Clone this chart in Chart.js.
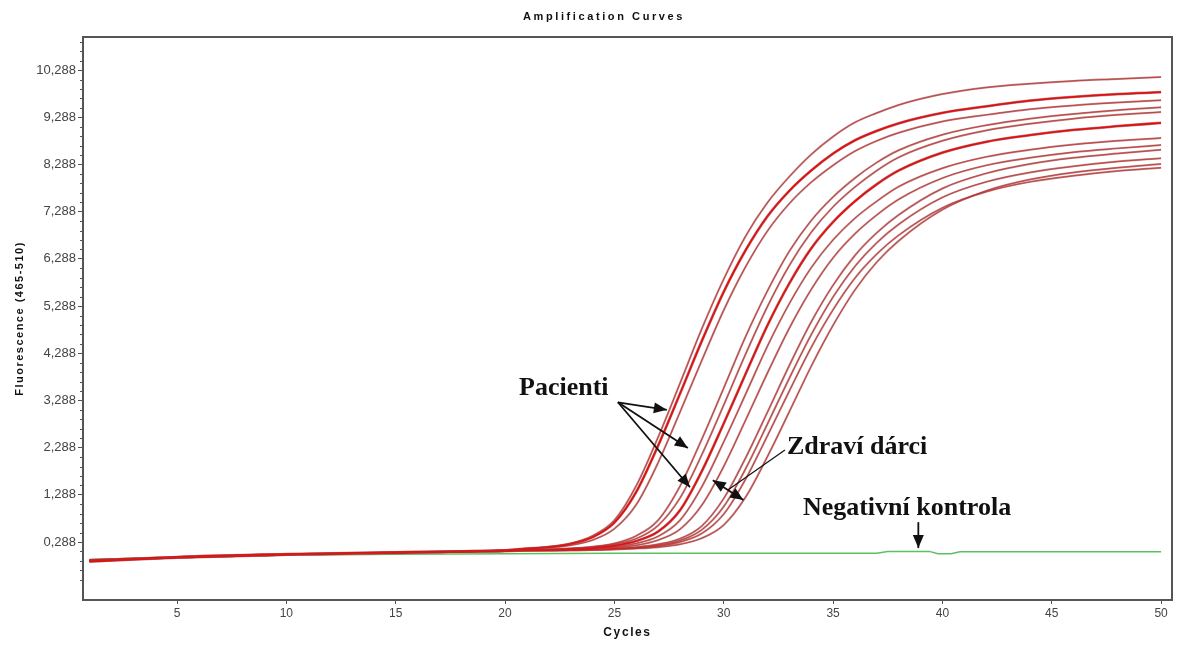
<!DOCTYPE html>
<html><head><meta charset="utf-8">
<script src="https://cdn.jsdelivr.net/npm/chart.js@4.4.1/dist/chart.umd.min.js"></script>
<style>html,body{margin:0;padding:0;background:#fff}#wrap{width:1181px;height:645px}</style>
</head><body><div id="wrap"><canvas id="c" width="1181" height="645"></canvas></div>
<script>
// ---- data ----
const cycles = [1,5,10,15,18,20,21,22,23,24,25,26,27,28,29,30,31,32,33,34,35,36,37,38,40,42,44,46,48,50];
const curve01 = [-0.10,-0.04,0.02,0.06,0.09,0.12,0.15,0.19,0.26,0.42,0.75,1.48,2.51,3.65,4.81,5.86,6.77,7.48,8.03,8.50,8.88,9.18,9.38,9.55,9.78,9.92,10.00,10.06,10.10,10.14];
const curve02 = [-0.12,-0.03,0.03,0.07,0.09,0.11,0.15,0.18,0.25,0.39,0.70,1.35,2.33,3.43,4.55,5.59,6.47,7.19,7.73,8.16,8.52,8.80,9.00,9.16,9.38,9.52,9.64,9.72,9.78,9.82];
const curve03 = [-0.09,-0.04,0.02,0.06,0.08,0.10,0.15,0.17,0.22,0.33,0.57,1.08,1.97,3.04,4.14,5.20,6.12,6.88,7.46,7.91,8.27,8.57,8.79,8.96,9.20,9.34,9.46,9.54,9.60,9.65];
const curve04 = [-0.11,-0.03,0.03,0.06,0.08,0.10,0.12,0.14,0.15,0.19,0.26,0.42,0.75,1.47,2.47,3.55,4.64,5.61,6.45,7.10,7.60,8.00,8.33,8.59,8.92,9.12,9.26,9.36,9.44,9.50];
const curve05 = [-0.10,-0.04,0.02,0.05,0.08,0.10,0.12,0.13,0.15,0.18,0.24,0.36,0.64,1.22,2.14,3.19,4.27,5.28,6.15,6.85,7.39,7.81,8.16,8.44,8.79,9.01,9.15,9.26,9.34,9.40];
const curve06 = [-0.12,-0.04,0.02,0.07,0.09,0.11,0.12,0.12,0.14,0.16,0.21,0.31,0.51,0.96,1.79,2.80,3.85,4.88,5.77,6.51,7.07,7.51,7.87,8.16,8.54,8.77,8.91,9.02,9.10,9.17];
const curve07 = [-0.09,-0.03,0.03,0.06,0.08,0.10,0.12,0.12,0.13,0.16,0.19,0.26,0.41,0.75,1.46,2.41,3.42,4.44,5.34,6.10,6.69,7.15,7.51,7.82,8.21,8.45,8.60,8.71,8.79,8.85];
const curve08 = [-0.10,-0.04,0.02,0.06,0.08,0.10,0.11,0.12,0.12,0.15,0.17,0.22,0.33,0.56,1.07,1.89,2.87,3.87,4.82,5.64,6.31,6.82,7.22,7.55,8.00,8.27,8.43,8.55,8.63,8.70];
const curve09 = [-0.11,-0.03,0.03,0.06,0.08,0.10,0.11,0.12,0.12,0.13,0.15,0.18,0.24,0.36,0.63,1.21,2.07,3.04,4.03,4.95,5.73,6.36,6.84,7.22,7.78,8.10,8.30,8.43,8.52,8.60];
const curve10 = [-0.10,-0.04,0.02,0.05,0.08,0.10,0.11,0.11,0.12,0.13,0.15,0.17,0.22,0.32,0.55,1.04,1.84,2.79,3.76,4.68,5.48,6.13,6.63,7.02,7.59,7.92,8.12,8.25,8.35,8.42];
const curve11 = [-0.09,-0.03,0.02,0.06,0.08,0.10,0.11,0.11,0.12,0.12,0.14,0.16,0.20,0.29,0.47,0.88,1.62,2.54,3.49,4.41,5.21,5.88,6.39,6.79,7.37,7.71,7.92,8.05,8.15,8.22];
const curve12 = [-0.10,-0.04,0.02,0.06,0.08,0.09,0.10,0.11,0.11,0.12,0.13,0.15,0.18,0.24,0.37,0.65,1.24,2.10,3.05,4.01,4.88,5.63,6.22,6.67,7.33,7.73,7.97,8.12,8.22,8.30];
const negCycles  = [1,5,10,15,20,25,30,35,37,37.5,39.4,39.8,40.4,40.8,45,50];
const negControl = [-0.08,-0.03,0.01,0.03,0.04,0.05,0.05,0.05,0.05,0.09,0.09,0.04,0.04,0.08,0.08,0.08];
const xTickValues = [5,10,15,20,25,30,35,40,45,50];
const xTickLabels = ['5','10','15','20','25','30','35','40','45','50'];
const yTickValues = [0.288,1.288,2.288,3.288,4.288,5.288,6.288,7.288,8.288,9.288,10.288];
const yTickLabels = ['0,288','1,288','2,288','3,288','4,288','5,288','6,288','7,288','8,288','9,288','10,288'];
const titleText = 'Amplification Curves';
const xTitle = 'Cycles';
const yTitle = 'Fluorescence (465-510)';

// annotation texts / arrows (in data coordinates)
const labelTexts = [
  {text:'Pacienti', x:20.64, y:3.55},
  {text:'Zdraví dárci', x:32.89, y:2.30},
  {text:'Negativní kontrola', x:33.62, y:1.01}
];
const arrows = [
  {from:[25.16,3.25], to:[27.40,3.09], head:'end'},
  {from:[25.16,3.25], to:[28.36,2.28], head:'end'},
  {from:[25.16,3.25], to:[28.46,1.45], head:'end'},
  {from:[32.80,2.24], to:[30.19,1.39], head:'none'},
  {from:[29.50,1.60], to:[30.90,1.18], head:'both'},
  {from:[38.90,0.71], to:[38.90,0.16], head:'end'}
];

// ---- styling ----
const curves = [curve01,curve02,curve03,curve04,curve05,curve06,curve07,curve08,curve09,curve10,curve11,curve12];
const thick = [false,true,false,false,false,true,false,false,false,false,false,false];
const pts = arr => cycles.map((c,i)=>({x:c,y:arr[i]}));
const datasets = [];
curves.forEach((arr,k)=>datasets.push({data:pts(arr),borderColor:thick[k]?'#e01010':'#c82424',borderWidth:thick[k]?1.8:0.7,pointRadius:0,cubicInterpolationMode:'monotone'}));
curves.forEach((arr,k)=>datasets.push({data:pts(arr),borderColor:'rgba(170,105,105,0.8)',borderWidth:thick[k]?2.8:2.0,pointRadius:0,cubicInterpolationMode:'monotone'}));
datasets.push({data:negCycles.map((c,i)=>({x:c,y:negControl[i]})),borderColor:'#5cc062',borderWidth:1.5,pointRadius:0,tension:0});

Chart.defaults.font.family = "'Liberation Sans', Arial, sans-serif";

const framePlugin = {
  id:'frame',
  afterDraw(chart){
    const {ctx, chartArea:a, scales:{y}} = chart;
    ctx.save();
    ctx.strokeStyle='#555'; ctx.lineWidth=2;
    ctx.strokeRect(a.left, a.top, a.right-a.left, a.bottom-a.top);
    ctx.lineWidth=1;
    for (let k=-1;k<=10;k++){
      for (let m=1;m<5;m++){
        const v = 0.288 + k + m*0.2;
        if (v < y.min || v > y.max) continue;
        const py = Math.round(y.getPixelForValue(v))+0.5;
        ctx.beginPath(); ctx.moveTo(a.left-3,py); ctx.lineTo(a.left,py); ctx.stroke();
      }
    }
    ctx.fillStyle='#111';
    ctx.textAlign='center'; ctx.textBaseline='middle';
    ctx.font="bold 11px 'Liberation Sans', Arial, sans-serif";
    ctx.letterSpacing='2.6px';
    ctx.fillText(titleText, 604, 17);
    ctx.font="bold 12px 'Liberation Sans', Arial, sans-serif";
    ctx.letterSpacing='1.6px';
    ctx.fillText(xTitle, (a.left+a.right)/2, 633);
    ctx.save();
    ctx.translate(20, (a.top+a.bottom)/2);
    ctx.rotate(-Math.PI/2);
    ctx.font="bold 11px 'Liberation Sans', Arial, sans-serif";
    ctx.letterSpacing='1.5px';
    ctx.fillText(yTitle, 0, 0);
    ctx.restore();
    ctx.restore();
  }
};

const annotPlugin = {
  id:'annot',
  afterDatasetsDraw(chart){
    const {ctx, scales:{x,y}} = chart;
    const P = (c,v)=>[x.getPixelForValue(c), y.getPixelForValue(v)];
    ctx.save();
    ctx.fillStyle='#111'; ctx.strokeStyle='#111';
    ctx.font="bold 26px 'Liberation Serif', 'Times New Roman', serif";
    ctx.textAlign='left'; ctx.textBaseline='middle';
    labelTexts.forEach(l=>{const [px,py]=P(l.x,l.y); ctx.fillText(l.text, px, py);});
    const head=(x1,y1,x2,y2)=>{
      const a=Math.atan2(y2-y1,x2-x1), len=13, w=5.5;
      ctx.beginPath(); ctx.moveTo(x2,y2);
      ctx.lineTo(x2-len*Math.cos(a)+w*Math.sin(a), y2-len*Math.sin(a)-w*Math.cos(a));
      ctx.lineTo(x2-len*Math.cos(a)-w*Math.sin(a), y2-len*Math.sin(a)+w*Math.cos(a));
      ctx.closePath(); ctx.fill();
    };
    arrows.forEach(ar=>{
      const [x1,y1]=P(...ar.from), [x2,y2]=P(...ar.to);
      ctx.lineWidth = ar.head==='none'?1.2:1.8;
      ctx.beginPath(); ctx.moveTo(x1,y1); ctx.lineTo(x2,y2); ctx.stroke();
      if (ar.head==='end'||ar.head==='both') head(x1,y1,x2,y2);
      if (ar.head==='both') head(x2,y2,x1,y1);
    });
    ctx.restore();
  }
};

new Chart(document.getElementById('c'), {
  type:'line',
  data:{datasets},
  options:{
    responsive:false, animation:false, devicePixelRatio:1,
    layout:{padding:{left:0,right:9,top:37,bottom:0}},
    plugins:{legend:{display:false}, tooltip:{enabled:false}, title:{display:false}},
    scales:{
      x:{type:'linear', min:0.7, max:50.5,
        afterBuildTicks:s=>{s.ticks = xTickValues.map(v=>({value:v}));},
        afterFit:s=>{s.height=45;},
        ticks:{callback:(v,i)=>xTickLabels[i], color:'#444', font:{size:12}, padding:2, maxRotation:0, autoSkip:false},
        grid:{drawOnChartArea:false, drawTicks:true, tickLength:4, tickColor:'#555'},
        border:{display:true, color:'#555', width:2},
        title:{display:false}
      },
      y:{type:'linear', min:-0.94, max:10.99,
        afterBuildTicks:s=>{s.ticks = yTickValues.map(v=>({value:v}));},
        afterFit:s=>{s.width=83;},
        ticks:{callback:(v,i)=>yTickLabels[i], color:'#444', font:{size:13}, padding:2, autoSkip:false},
        grid:{drawOnChartArea:false, drawTicks:true, tickLength:5, tickColor:'#555'},
        border:{display:true, color:'#555', width:2},
        title:{display:false}
      }
    }
  },
  plugins:[framePlugin, annotPlugin]
});
</script></body></html>
